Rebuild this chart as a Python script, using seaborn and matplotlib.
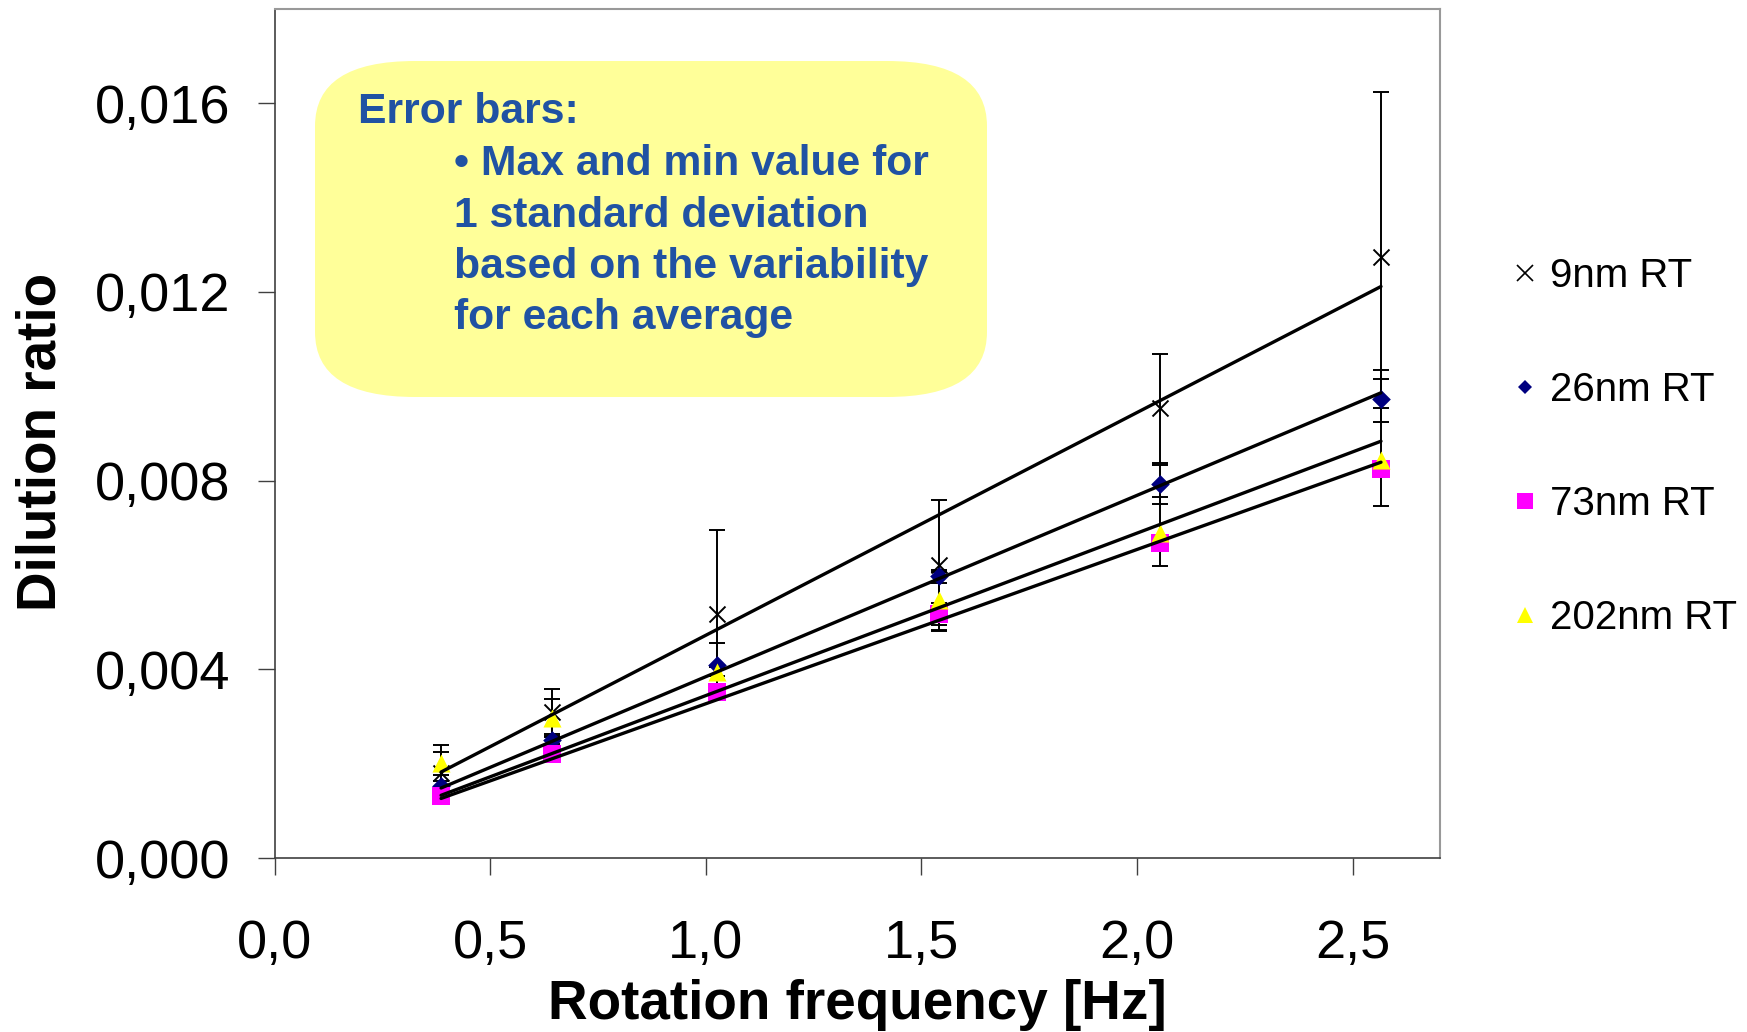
import numpy as np
import pandas as pd
import seaborn as sns
import matplotlib.pyplot as plt
from matplotlib.lines import Line2D
from matplotlib.patches import FancyBboxPatch
from matplotlib.ticker import FuncFormatter

# rotation frequency of each measurement [Hz]
freq_hz = [0.386, 0.643, 1.025, 1.541, 2.053, 2.566]

series_names = ["9nm RT", "26nm RT", "73nm RT", "202nm RT"]

# average dilution ratio per series
ratio_9nm = [0.00180, 0.00310, 0.00518, 0.00621, 0.00953, 0.01274]
ratio_26nm = [0.00152, 0.00250, 0.00409, 0.00597, 0.00792, 0.00974]
ratio_73nm = [0.00132, 0.00220, 0.00352, 0.00517, 0.00668, 0.00824]
ratio_202nm = [0.00201, 0.00297, 0.00395, 0.00547, 0.00688, 0.00843]

# error bar min / max values
low_9nm = [0.00121, 0.00262, 0.00341, 0.00483, 0.00838, 0.00924]
high_9nm = [0.00239, 0.00358, 0.00695, 0.00758, 0.01068, 0.01624]
low_26nm = [0.00141, 0.00242, 0.00363, 0.00584, 0.00750, 0.00953]
high_26nm = [0.00163, 0.00258, 0.00455, 0.00610, 0.00833, 0.01034]
low_73nm = [0.00125, 0.00212, 0.00347, 0.00494, 0.00658, 0.00807]
high_73nm = [0.00139, 0.00228, 0.00357, 0.00540, 0.00678, 0.00841]
low_202nm = [0.00177, 0.00257, 0.00385, 0.00482, 0.00619, 0.00746]
high_202nm = [0.00225, 0.00337, 0.00405, 0.00607, 0.00765, 0.01015]

x_ticks = [0.0, 0.5, 1.0, 1.5, 2.0, 2.5]
y_ticks = [0.000, 0.004, 0.008, 0.012, 0.016]

note_lines = [
    "Error bars:",
    "\u2022 Max and min value for",
    "1 standard deviation",
    "based on the variability",
    "for each average",
]

styles = {
    "9nm RT": dict(marker="x", color="black", size=11.5, legend_size=11.0),
    "26nm RT": dict(marker="D", color="#000080", size=9.5, legend_size=7.2),
    "73nm RT": dict(marker="s", color="#FF00FF", size=12.5, legend_size=11.3),
    "202nm RT": dict(marker="^", color="#FFFF00", size=13.0, legend_size=11.5),
}

frames = []
for name, y, lo, hi in zip(
    series_names,
    [ratio_9nm, ratio_26nm, ratio_73nm, ratio_202nm],
    [low_9nm, low_26nm, low_73nm, low_202nm],
    [high_9nm, high_26nm, high_73nm, high_202nm],
):
    frames.append(pd.DataFrame({"freq": freq_hz, "ratio": y, "low": lo,
                                "high": hi, "series": name}))
df = pd.concat(frames, ignore_index=True)

# linear trendlines forced through the origin
fits = []
for name, g in df.groupby("series", sort=False):
    slope = (g["freq"] * g["ratio"]).sum() / (g["freq"] ** 2).sum()
    fits.append(pd.DataFrame({"freq": g["freq"], "fit": slope * g["freq"],
                              "series": name}))
fit_df = pd.concat(fits, ignore_index=True)

sns.set_theme(style="ticks")
plt.rcParams["font.family"] = ["Liberation Sans", "DejaVu Sans"]
plt.rcParams["text.color"] = "black"
plt.rcParams["axes.labelcolor"] = "black"

fig = plt.figure(figsize=(17.47, 10.32), dpi=100)
ax = fig.add_axes([0.1572, 0.1686, 0.6671, 0.8227])

for name, g in df.groupby("series", sort=False):
    ax.errorbar(g["freq"], g["ratio"],
                yerr=[g["ratio"] - g["low"], g["high"] - g["ratio"]],
                fmt="none", ecolor="black", elinewidth=1.4,
                capsize=5.5, capthick=1.4, zorder=2)

for name, g in df.groupby("series", sort=False):
    st = styles[name]
    if st["marker"] == "x":
        sns.scatterplot(data=g, x="freq", y="ratio", marker="x",
                        color=st["color"], s=st["size"] ** 2,
                        linewidth=1.4, ax=ax, zorder=3, legend=False)
    else:
        sns.scatterplot(data=g, x="freq", y="ratio", marker=st["marker"],
                        color=st["color"], s=st["size"] ** 2,
                        linewidth=0, ax=ax, zorder=3, legend=False)

sns.lineplot(data=fit_df, x="freq", y="fit", units="series",
             estimator=None, color="black", linewidth=2.4, ax=ax, zorder=4)

ax.set_xlim(0, 2.703)
ax.set_ylim(0, 0.018)
ax.set_xticks(x_ticks)
ax.set_yticks(y_ticks)
ax.xaxis.set_major_formatter(FuncFormatter(lambda v, p: f"{v:.1f}".replace(".", ",")))
ax.yaxis.set_major_formatter(FuncFormatter(lambda v, p: f"{v:.3f}".replace(".", ",")))
ax.tick_params(axis="both", direction="out", length=12, width=1,
               color="#404040", labelsize=39, labelcolor="black")
ax.tick_params(axis="x", pad=32)
ax.tick_params(axis="y", pad=20)

for side in ["top", "right"]:
    ax.spines[side].set_color("#999999")
    ax.spines[side].set_linewidth(1.5)
for side in ["left", "bottom"]:
    ax.spines[side].set_color("#404040")
    ax.spines[side].set_linewidth(1.2)

ax.set_xlabel("Rotation frequency [Hz]", fontsize=39.5, fontweight="bold")
ax.set_ylabel("Dilution ratio", fontsize=39.5, fontweight="bold")
ax.xaxis.set_label_coords(0.5, -0.142)
ax.yaxis.set_label_coords(-0.178, 0.49)

# yellow note box
box = FancyBboxPatch((3.15, 6.35), 6.72, 3.36,
                     boxstyle="round,pad=0,rounding_size=1.0",
                     mutation_aspect=0.65, transform=fig.dpi_scale_trans,
                     facecolor="#FFFF99", edgecolor="none", zorder=5)
fig.add_artist(box)

note_x = [358, 454, 454, 454, 454]
note_baseline = [123, 175, 227, 278, 329]
for txt, xp, yp in zip(note_lines, note_x, note_baseline):
    fig.text(xp / 1747, 1 - yp / 1032, txt, fontsize=30.7, fontweight="bold",
             color="#2052A3", va="baseline", ha="left", zorder=6)

handles = [Line2D([], [], linestyle="none", marker=styles[n]["marker"],
                  markersize=styles[n]["legend_size"],
                  color=styles[n]["color"],
                  markeredgewidth=1.2 if n == "9nm RT" else 0)
           for n in series_names]
fig.legend(handles, series_names, loc="center left",
           bbox_to_anchor=(1513 / 1747, 1 - 447 / 1032),
           frameon=False, fontsize=29, handlelength=0.6, handletextpad=0.32,
           labelspacing=1.89, borderpad=0, borderaxespad=0)

fig.savefig("out.png", dpi=100)
